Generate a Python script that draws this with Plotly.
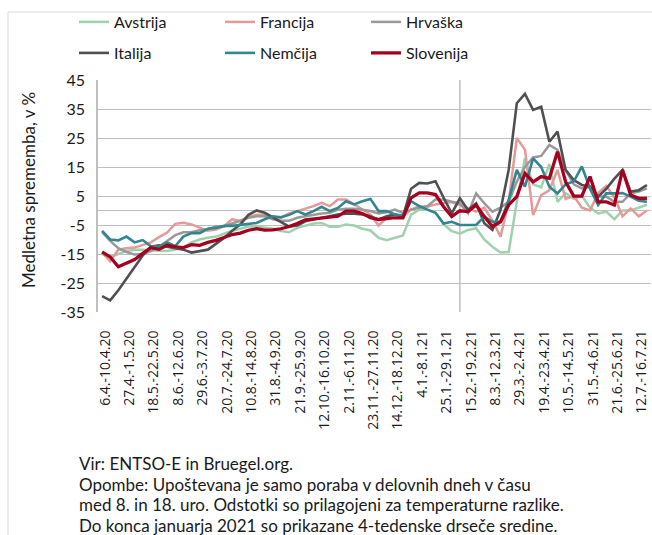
import plotly.graph_objects as go

# ---- data ----
tick_labels = ["6.4.-10.4.20", "27.4.-1.5.20", "18.5.-22.5.20", "8.6.-12.6.20", "29.6.-3.7.20",
               "20.7.-24.7.20", "10.8.-14.8.20", "31.8.-4.9.20", "21.9.-25.9.20", "12.10.-16.10.20",
               "2.11.-6.11.20", "23.11.-27.11.20", "14.12.-18.12.20", "4.1.-8.1.21", "25.1.-29.1.21",
               "15.2.-19.2.21", "8.3.-12.3.21", "29.3.-2.4.21", "19.4.-23.4.21", "10.5.-14.5.21",
               "31.5.-4.6.21", "21.6.-25.6.21", "12.7.-16.7.21"]
tick_step = 3

avstrija = [-15, -16, -15, -14, -13.5, -13.5, -13.8, -14, -14, -13.5, -12.8, -11, -10, -9.4, -9, -8, -7,
            -6.3, -5.5, -5.5, -6, -6.3, -7.1, -7.5, -6, -5.2, -4.5, -4.3, -5.6, -5.6, -4.8, -5.2, -6.3,
            -6.9, -9.4, -10.2, -9.4, -8.6, -1.4, 0.3, 0.3, -0.8, -4.8, -7.1, -8, -6.7, -6.1, -10, -12.5,
            -14.5, -14.3, 3, 18, 9, 8, 16, 3, 6, 4, 5, 1, -1, -0.4, -3, 0, 0, 1, 2]
francija = [-14.5, -17.5, -13.5, -13, -12.8, -12, -11, -9.2, -7.6, -4.6, -4.2, -4.8, -6, -7, -6.6, -5.4,
            -3, -3.7, -2.2, -1.5, -1.5, -2.5, -2.5, -1, -0.2, 0.6, 1.5, 2.6, 1.5, 3.8, 3.8, 2.1, 0.3,
            -1.4, -5.2, -2.5, -1.4, -2, 0.3, 1.5, 1.3, 2.1, 2.6, 2.9, 1.9, 0.7, -0.4, 1, -3.5, -9, 3,
            25, 21, -1.6, 5.3, 7, 14, 4, 5, 1, 0, 6, 8.5, 4.5, -2, 0.7, -2, 0]
hrvaska = [-7.5, -10.5, -13, -14.3, -15.2, -15, -14, -12.5, -10.5, -8.5, -7.5, -7.5, -6.8, -6.5, -5.5,
           -5.5, -4.5, -3.5, -2.5, -2, -2, -3, -3.5, -3.5, -2.5, -2, -1.5, -1, -0.8, 0.3, 0.6, 0.6, 0.3,
           -0.2, -1, -0.6, 0.3, -0.8, 0.3, 0.9, 1.5, 3.8, 3.8, 3, 2.5, -1, 5.9, 2.5, -0.4, 1, 3, 10, 15,
           18.3, 18.8, 22.6, 20.9, 14, 9, 7.6, 8.2, 4.8, 4.8, 3, 3, 5.9, 6.5, 7.6]
italija = [-29.5, -31, -27.5, -23.5, -19.5, -15.5, -12.5, -12, -12.5, -13, -13.5, -14.5, -14, -13.5,
           -11.5, -9.5, -7, -4.8, -1.5, 0, -0.8, -2.5, -4, -5.6, -5.2, -3.7, -3.1, -2.5, -2, -1.4, -1.1,
           -1.1, -1.4, -2, -3.1, -2, -1.4, -2, 7.5, 9.5, 9.3, 10.1, 4.4, -1, 4.2, 0.2, 2.5, -4.4, -6.7,
           0.2, 14, 37, 40.2, 34.7, 35.8, 23.7, 27.2, 14, 10.5, 8.8, 8.2, 4.8, 7.5, 11, 14, 6.5, 7, 8.8]
nemcija = [-7, -10, -10.3, -9, -11, -10.2, -12.3, -12.5, -11, -12.3, -9, -7.8, -7.8, -6.3, -6, -5.3,
           -5.3, -5, -4.5, -4.3, -3, -2, -2.3, -1.5, -0.2, -1.4, -0.2, 1.3, -0.2, 0.9, 3.2, 2.1, 3.2, 4,
           -0.2, -0.2, -1.4, -1.7, 3.2, 1.5, 0.3, -0.8, -4.5, -3.9, -5, -5, -5, -2.1, -3.9, -3.9, 3.6,
           14, 8.2, 18, 15, 8.2, 5.9, 9, 10, 15.2, 7.5, 1.9, 5.9, 5.9, 6, 4.8, 3.4, 3]
slovenija = [-14.3, -16, -19.4, -18, -16.9, -14.8, -12.8, -13.4, -12, -12.5, -12.8, -11.8, -12, -11,
             -10.3, -9.3, -8.3, -7.8, -6.8, -6.3, -6.8, -6.7, -6.3, -5.5, -4.5, -3.2, -2.9, -2.8, -2.5,
             -2, -0.2, -0.2, -1, -2.5, -3.1, -2.8, -2.5, -2.5, 4.4, 6.1, 6.1, 5.5, 1.3, -2.1, -0.1, -0.4,
             1.9, -2.1, -5.6, -3.9, 1.9, 4.8, 12.8, 9.9, 11.7, 11.1, 20.3, 9.9, 5, 5, 11.7, 3, 3, 1.9,
             14, 5.3, 4.2, 4.2]
marker_week = 44  # position of the vertical separator (category index)

series = [("Avstrija", avstrija, "#9fd1ae", 2.5, "legend"),
          ("Francija", francija, "#e39a98", 2.5, "legend"),
          ("Hrvaška", hrvaska, "#999999", 2.5, "legend"),
          ("Italija", italija, "#505050", 2.6, "legend2"),
          ("Nemčija", nemcija, "#31868f", 2.6, "legend2"),
          ("Slovenija", slovenija, "#a5001f", 3.25, "legend2")]

n = len(slovenija)
x = list(range(n))

fig = go.Figure()
for name, vals, col, w, lg in series:
    fig.add_trace(go.Scatter(x=x, y=vals, name=name, mode="lines",
                             line=dict(color=col, width=w), legend=lg))

grid = "#bfbfbf"
L, R, T, B = 98, 1, 80, 223
W, H = 652, 535
pw = W - L - R
ph = H - T - B

def px(xp):
    return (xp - L) / pw

def py(yp):
    return (H - B - yp) / ph

legfont = dict(family="Lato, 'Open Sans', sans-serif", size=16, color="#1a1a1a")
common_leg = dict(orientation="h", xref="container", yref="container", xanchor="left",
                  yanchor="middle", entrywidth=101, entrywidthmode="pixels", font=legfont,
                  bgcolor="rgba(0,0,0,0)", traceorder="normal", itemwidth=30)
fig.update_layout(
    width=W, height=H, margin=dict(l=L, r=R, t=T, b=B, autoexpand=False),
    paper_bgcolor="white", plot_bgcolor="white",
    showlegend=True,
    legend=dict(x=74 / W, y=1 - 22 / H, **common_leg),
    legend2=dict(x=74 / W, y=1 - 53 / H, **common_leg),
    xaxis=dict(range=[-0.5, n - 0.5], tickmode="array",
               tickvals=[i * tick_step for i in range(len(tick_labels))], ticktext=tick_labels,
               tickangle=-90, showgrid=False, zeroline=False, showline=False,
               ticks="outside", ticklen=12, tickcolor="rgba(0,0,0,0)", ticklabelshift=3,
               ticklabeloverflow="allow",
               tickfont=dict(family="'Open Sans', sans-serif", size=14, color="#1a1a1a")),
    yaxis=dict(range=[-35, 45], tickmode="array", tickvals=list(range(-35, 46, 10)),
               ticktext=[str(v) for v in range(-35, 46, 10)],
               showgrid=True, gridcolor=grid, gridwidth=1.3,
               zeroline=True, zerolinecolor=grid, zerolinewidth=1.3,
               showline=True, linecolor=grid, linewidth=1.5,
               ticks="outside", ticklen=8, tickcolor="rgba(0,0,0,0)",
               tickfont=dict(family="Lato, sans-serif", size=16, color="#1a1a1a")),
)

# vertical separator line
fig.add_shape(type="line", xref="x", yref="y", x0=marker_week, x1=marker_week, y0=-35, y1=45,
              line=dict(color=grid, width=1.5), layer="below")
# chart area border (visible left & top)
fig.add_shape(type="rect", xref="paper", yref="paper", x0=px(8), x1=px(700), y0=py(600), y1=py(12),
              line=dict(color="#d9d9d9", width=1), layer="below")

fig.add_annotation(text="Medletna sprememba, v %", xref="paper", yref="paper",
                   x=px(28), y=py(190), textangle=-90, showarrow=False,
                   xanchor="center", yanchor="middle",
                   font=dict(family="Lato, sans-serif", size=17, color="#1a1a1a"))

notes = ["Vir: ENTSO-E in Bruegel.org.",
         "Opombe: Upoštevana je samo poraba v delovnih dneh v času",
         "med 8. in 18. uro. Odstotki so prilagojeni za temperaturne razlike.",
         "Do konca januarja 2021 so prikazane 4-tedenske drseče sredine."]
for k, t in enumerate(notes):
    fig.add_annotation(text=t, xref="paper", yref="paper", x=px(77), y=py(463.5 + 20.5 * k),
                       xanchor="left", yanchor="middle", showarrow=False, align="left",
                       font=dict(family="Lato, sans-serif", size=17, color="#1a1a1a"))

fig.write_html("out.html", config={"displayModeBar": False},
               post_script="document.body.style.margin='0';document.body.style.overflow='hidden';")
